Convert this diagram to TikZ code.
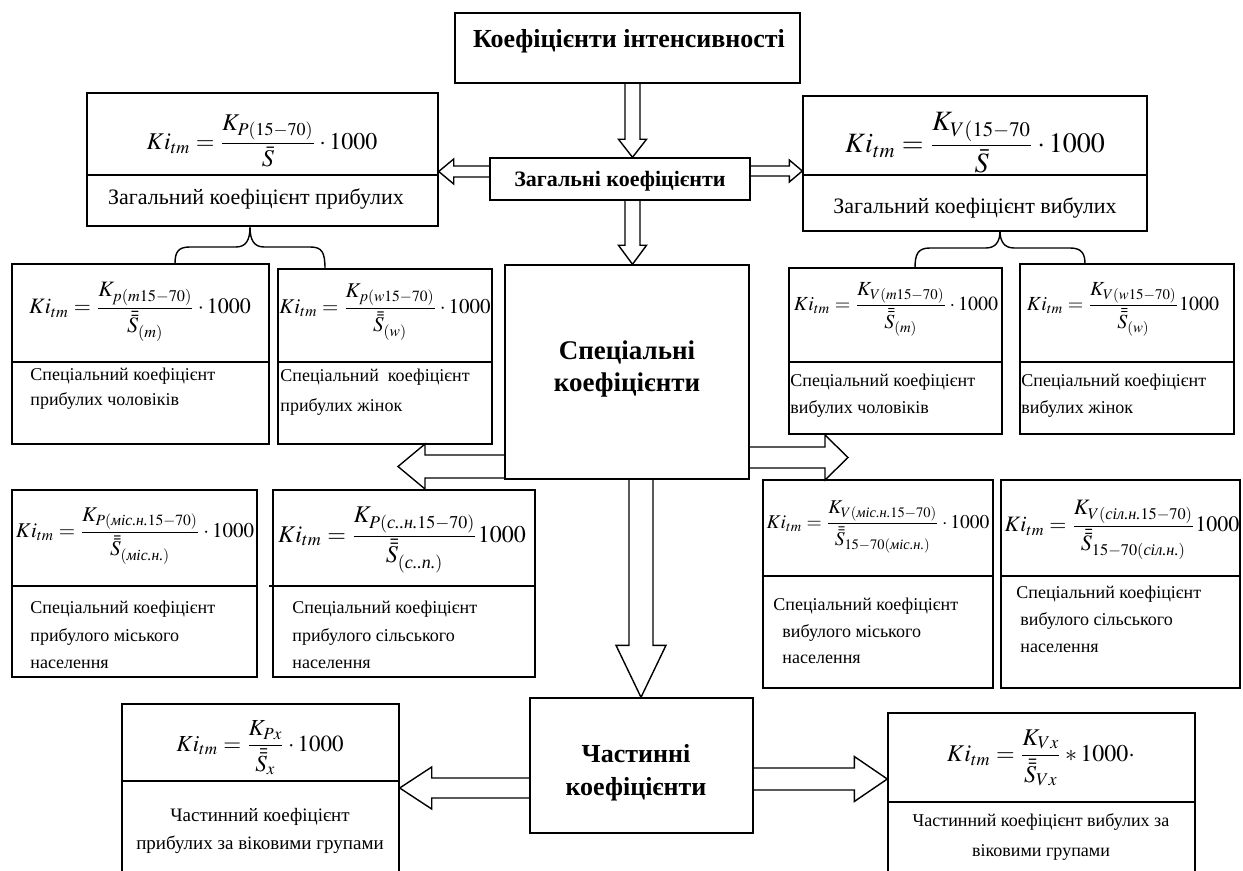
\documentclass[tikz,border=0pt]{standalone}
\usepackage{amsmath}
\usepackage{mathptmx}
\usepackage[no-math]{fontspec}
\setmainfont{Liberation Serif}
\newfontfamily\tms{Liberation Serif}
\usetikzlibrary{fit,calc}
\newcommand\mkbox[5]{\path (#2,#3) coordinate (#1-a) (#4,#5) coordinate (#1-b);
  \node[bx, fit=(#1-a)(#1-b)] (#1) {};}
\newcommand\dvline[2]{\draw[dv] (#1.west |- 0,#2) -- (#1.east |- 0,#2);}
% down block arrow: from node, to anchor, x centre, shaft half, head half, head length (px)
\newcommand\downarr[6]{\draw[blk] let \p1=(#1.south), \p2=(#2), \p3=(#3,0) in
  (\x3-#4*0.5pt,\y1) -- (\x3-#4*0.5pt,\y2+#6*0.5pt) -- (\x3-#5*0.5pt,\y2+#6*0.5pt) -- (\x3,\y2)
  -- (\x3+#5*0.5pt,\y2+#6*0.5pt) -- (\x3+#4*0.5pt,\y2+#6*0.5pt) -- (\x3+#4*0.5pt,\y1);}
\newcommand\leftarr[6]{\draw[blk] let \p1=(#1.west), \p2=(#2), \p3=(0,#3) in
  (\x1,\y3+#4*0.5pt) -- (\x2+#6*0.5pt,\y3+#4*0.5pt) -- (\x2+#6*0.5pt,\y3+#5*0.5pt) -- (\x2,\y3)
  -- (\x2+#6*0.5pt,\y3-#5*0.5pt) -- (\x2+#6*0.5pt,\y3-#4*0.5pt) -- (\x1,\y3-#4*0.5pt);}
\newcommand\rightarr[6]{\draw[blk] let \p1=(#1.east), \p2=(#2), \p3=(0,#3) in
  (\x1,\y3+#4*0.5pt) -- (\x2-#6*0.5pt,\y3+#4*0.5pt) -- (\x2-#6*0.5pt,\y3+#5*0.5pt) -- (\x2,\y3)
  -- (\x2-#6*0.5pt,\y3-#5*0.5pt) -- (\x2-#6*0.5pt,\y3-#4*0.5pt) -- (\x1,\y3-#4*0.5pt);}
\newcommand\fs[2]{\tms\fontsize{#1}{#2}\selectfont}
\begin{document}
\begin{tikzpicture}[x=0.5pt,y=-0.5pt,
  bx/.style={draw,line width=0.7pt,inner sep=0pt},
  dv/.style={line width=0.7pt},
  blk/.style={draw,line width=0.7pt,line join=miter},
  brc/.style={line width=0.7pt},
  fm/.style={inner sep=0pt},
  tl/.style={inner sep=0pt,anchor=west,align=left},
  tc/.style={inner sep=0pt,align=center}]
\useasboundingbox (0,0) rectangle (1243,871);
% boxes
\mkbox{top}{455}{13}{800}{83}
\mkbox{zag}{490}{158}{750}{200}
\mkbox{lt}{87}{93}{438}{226}
\mkbox{rt}{803}{96}{1147}{231}
\mkbox{sa}{12}{264}{269}{444}
\mkbox{sb}{278}{269}{492}{444}
\mkbox{spec}{505}{265}{749}{479}
\mkbox{sc}{789}{268}{1002}{434}
\mkbox{sd}{1020}{264}{1234}{434}
\mkbox{ua}{12}{490}{257}{677}
\mkbox{ub}{273}{490}{535}{677}
\mkbox{uc}{763}{480}{993}{688}
\mkbox{ud}{1001}{480}{1240}{688}
\mkbox{chast}{530}{698}{753}{833}
\mkbox{pa}{122}{704}{399}{885}
\mkbox{pb}{888}{713}{1195}{885}
% dividers
\dvline{lt}{175}
\dvline{rt}{175}
\dvline{sa}{362}
\dvline{sb}{362}
\dvline{sc}{362}
\dvline{sd}{362}
\dvline{ua}{586}
\draw[dv] (269,586) -- (ub.east |- 0,586);
\dvline{uc}{576}
\dvline{ud}{576}
\dvline{pa}{781}
\dvline{pb}{802}
% free arrow tips
\coordinate (tipL) at (398,466.5);
\coordinate (tipR) at (848,457.5);
% block arrows
\downarr{top}{zag.north}{632.5}{7.5}{14}{18}
\downarr{zag}{spec.north}{632.5}{7.5}{14}{19}
\leftarr{zag}{lt.east}{171.5}{5.5}{12.5}{15}
\rightarr{zag}{rt.west}{171}{5}{11}{13}
\leftarr{spec}{tipL}{466.5}{11.5}{22.5}{27}
\rightarr{spec}{tipR}{457.5}{10.5}{22.5}{23}
\downarr{spec}{chast.north}{641}{12}{25}{52}
\leftarr{chast}{pa.east}{788}{10}{21}{32}
\rightarr{chast}{pb.west}{779}{11}{22.5}{33}
% braces
\draw[brc] (175,264) .. controls (175,252) and (178,247) .. (190,247) -- (236,247)
  .. controls (246,247) and (250,240) .. (250,227)
  .. controls (250,240) and (254,247) .. (264,247) -- (310,247)
  .. controls (322,247) and (325,252) .. (325,269);
\draw[brc] (915,268) .. controls (915,254) and (918,248) .. (930,248) -- (986,248)
  .. controls (996,248) and (1000,241) .. (1000,231)
  .. controls (1000,241) and (1004,248) .. (1014,248) -- (1070,248)
  .. controls (1082,248) and (1085,254) .. (1085,264);
% headings
\node[tc,font=\fs{13}{15}\bfseries] (ttl) at (629,41) {Коефіцієнти інтенсивності};
\node[tc,font=\fs{11}{13}\bfseries] (zagt) at (620,181) {Загальні коефіцієнти};
\node[tc,font=\fs{13.5}{16}\bfseries] (spect) at (627,369) {Спеціальні\\коефіцієнти};
\node[tc,font=\fs{13}{16.5}\bfseries] (chastt) at (636,773) {Частинні\\коефіцієнти};
% formulas
\node[fm] (ltf) at (262,141) {\fs{12}{14}$\displaystyle Ki_{tm}=\frac{K_{P(15-70)}}{\bar{S}}\cdot 1000$};
\node[fm] (rtf) at (975,143) {\fs{14}{16}$\displaystyle Ki_{tm}=\frac{K_{V(15-70}}{\bar{S}}\cdot 1000$};
\node[fm] (saf) at (140,312) {\fs{11}{13}$\displaystyle Ki_{tm}=\frac{K_{p(m15-70)}}{\bar{\bar{S}}_{(m)}}\cdot 1000$};
\node[fm] (sbf) at (385,312) {\fs{10.5}{13}$\displaystyle Ki_{tm}=\frac{K_{p(w15-70)}}{\bar{\bar{S}}_{(w)}}\cdot 1000$};
\node[fm] (scf) at (896,309) {\fs{10}{12}$\displaystyle Ki_{tm}=\frac{K_{V(m15-70)}}{\bar{\bar{S}}_{(m)}}\cdot 1000$};
\node[fm] (sdf) at (1123,309) {\fs{10}{12}$\displaystyle Ki_{tm}=\frac{K_{V(w15-70)}}{\bar{\bar{S}}_{(w)}}1000$};
\node[fm] (uaf) at (135,536) {\fs{10.5}{13}$\displaystyle Ki_{tm}=\frac{K_{P(\textit{міс.н.}15-70)}}{\bar{\bar{S}}_{(\textit{міс.н.})}}\cdot 1000$};
\node[fm] (ubf) at (402,540) {\fs{12}{14}$\displaystyle Ki_{tm}=\frac{K_{P(\textit{с..н.}15-70)}}{\bar{\bar{S}}_{(\textit{с..п.})}}1000$};
\node[fm] (ucf) at (878,527) {\fs{9.75}{12}$\displaystyle Ki_{tm}=\frac{K_{V(\textit{міс.н.}15-70)}}{\bar{\bar{S}}_{15-70(\textit{міс.н.})}}\cdot 1000$};
\node[fm] (udf) at (1122,530) {\fs{11}{13}$\displaystyle Ki_{tm}=\frac{K_{V(\textit{сіл.н.}15-70)}}{\bar{\bar{S}}_{15-70(\textit{сіл.н.})}}1000$};
\node[fm] (paf) at (260,748) {\fs{11.5}{14}$\displaystyle Ki_{tm}=\frac{K_{Px}}{\bar{\bar{S}}_{x}}\cdot 1000$};
\node[fm] (pbf) at (1041,758) {\fs{12}{14}$\displaystyle Ki_{tm}=\frac{K_{Vx}}{\bar{\bar{S}}_{Vx}}*1000\cdot$};
% descriptions
\node[tc,font=\fs{11}{13}] (ltt) at (256,199) {Загальний коефіцієнт прибулих};
\node[tc,font=\fs{11}{13}] (rtt) at (975,208) {Загальний коефіцієнт вибулих};
\node[tl,font=\fs{9}{12.5}] (sat) at (30,388.5) {Спеціальний коефіцієнт\\прибулих чоловіків};
\node[tl,font=\fs{9}{15}] (sbt) at (280,392) {Спеціальний\ \ коефіцієнт\\прибулих жінок};
\node[tl,font=\fs{9}{13.5}] (sct) at (790,395.5) {Спеціальний коефіцієнт\\вибулих чоловіків};
\node[tl,font=\fs{9}{13.5}] (sdt) at (1021,395.5) {Спеціальний коефіцієнт\\вибулих жінок};
\node[tl,font=\fs{9}{13.75}] (uat) at (30,635) {Спеціальний коефіцієнт\\прибулого міського\\населення};
\node[tl,font=\fs{9}{13.75}] (ubt) at (292,635) {Спеціальний коефіцієнт\\прибулого сільського\\населення};
\node[tl,font=\fs{9}{13.25}] (uct) at (773,631) {Спеціальний коефіцієнт\\\hspace*{4.5pt}вибулого міського\\\hspace*{4.5pt}населення};
\node[tl,font=\fs{9}{13.5}] (udt) at (1016,619) {Спеціальний коефіцієнт\\\hspace*{2pt}вибулого сільського\\\hspace*{2pt}населення};
\node[tc,font=\fs{9.5}{14}] (pat) at (260,831) {Частинний коефіцієнт\\прибулих за віковими групами};
\node[tc,font=\fs{9}{15}] (pbt) at (1041,837) {Частинний коефіцієнт вибулих за\\віковими групами};
\end{tikzpicture}
\end{document}
